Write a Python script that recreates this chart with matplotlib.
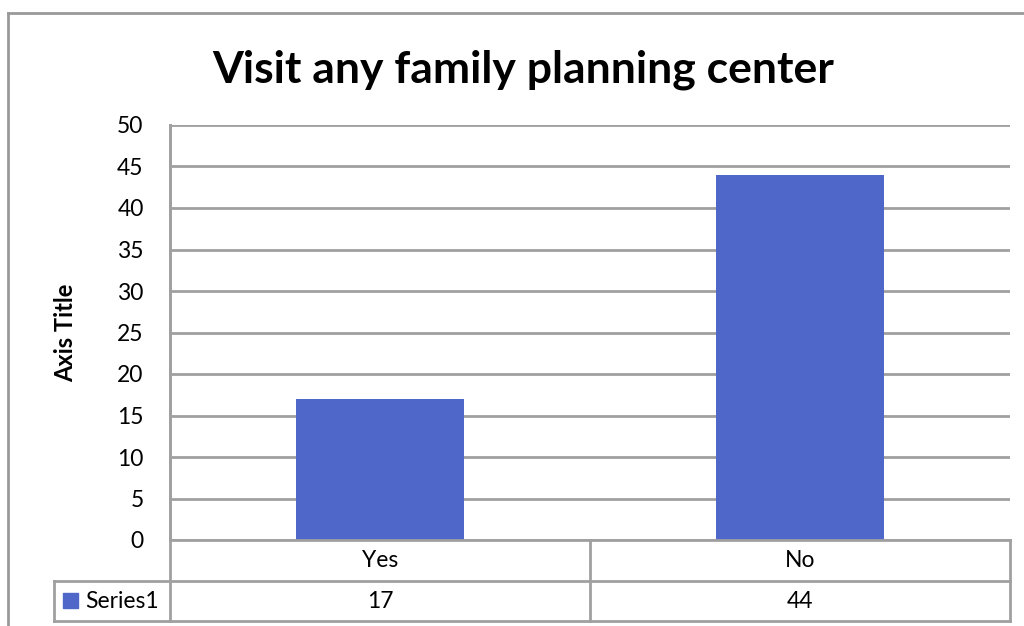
import matplotlib
matplotlib.use("Agg")
import matplotlib.pyplot as plt
from matplotlib.lines import Line2D
from matplotlib.patches import Rectangle
import matplotlib.transforms as mtransforms

categories = ["Yes", "No"]
values = [17, 44]
series_name = "Series1"
title = "Visit any family planning center"
y_label = "Axis Title"
y_ticks = [0, 5, 10, 15, 20, 25, 30, 35, 40, 45, 50]

BAR = "#4F67C8"
GRID = "#A0A0A0"
FONT = "Lato"
FS = 16.5

W, H = 1024, 626
fig = plt.figure(figsize=(W / 100, H / 100), dpi=100)

def fx(px):
    return px / W

def fy(py):
    return 1 - py / H

# plot area in pixels
L, R, T, B = 170, 1010, 125, 540
ax = fig.add_axes([fx(L), fy(B), fx(R) - fx(L), fy(T) - fy(B)])
x = list(range(len(categories)))
ax.bar(x, values, width=0.4, color=BAR, zorder=3)
ax.set_xlim(-0.5, len(categories) - 0.5)
ax.set_ylim(0, 50)
ax.set_yticks(y_ticks)
ax.set_yticklabels([str(t) for t in y_ticks], fontsize=FS, family=FONT)
ax.tick_params(axis="y", length=0, pad=19)
ax.set_xticks([])
ax.yaxis.grid(True, color=GRID, linewidth=2, zorder=0)
for s in ["top", "right", "bottom"]:
    ax.spines[s].set_visible(False)
ax.spines["left"].set_color(GRID)
ax.spines["left"].set_linewidth(2)
ax.set_ylabel(y_label, fontsize=17, fontweight="bold", family=FONT, labelpad=29)

fig.text(fx(523), fy(70), title, ha="center", va="center", fontsize=32,
         fontweight="bold", family=FONT)

# data table below the plot area
lw = 2
def hline(y, x0, x1):
    fig.add_artist(Line2D([fx(x0), fx(x1)], [fy(y), fy(y)], color=GRID, lw=lw))

def vline(xp, y0, y1):
    fig.add_artist(Line2D([fx(xp), fx(xp)], [fy(y0), fy(y1)], color=GRID, lw=lw))

r1, r2, r3 = 540, 581, 621
TL = 54
hline(r1, L, R)
hline(r2, TL, R)
hline(r3, TL, R)
vline(L, T, r3)
vline(TL, r2, r3)
vline(R, r1, r3)
mid = (L + R) / 2
vline(mid, r1, r3)

trans = mtransforms.blended_transform_factory(ax.transData, fig.transFigure)
for i, (c, v) in enumerate(zip(categories, values)):
    fig.text(i, fy((r1 + r2) / 2), c, transform=trans, ha="center", va="center",
             fontsize=FS, family=FONT)
    fig.text(i, fy((r2 + r3) / 2), str(v), transform=trans, ha="center", va="center",
             fontsize=FS, family=FONT)

fig.add_artist(Rectangle((fx(63), fy(608)), fx(15), fy(593) - fy(608),
                         color=BAR, transform=fig.transFigure))
fig.text(fx(85), fy((r2 + r3) / 2), series_name, ha="left", va="center",
         fontsize=FS, family=FONT)

# outer chart frame
fig.add_artist(Line2D([fx(8), fx(8)], [fy(13), 0], color="#999999", lw=2))
fig.add_artist(Line2D([fx(8), 1], [fy(13), fy(13)], color="#999999", lw=2))

fig.savefig("out.png", dpi=100, facecolor="white")
